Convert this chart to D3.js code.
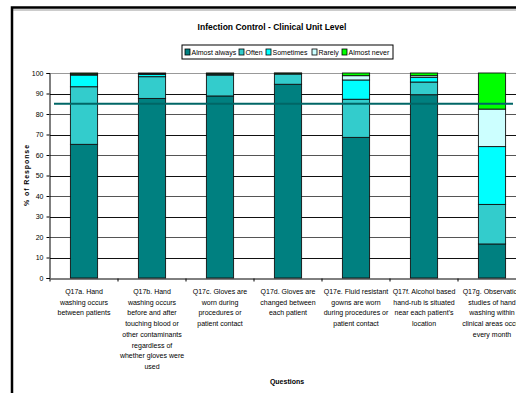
<!DOCTYPE html>
<html>
<head>
<meta charset="utf-8">
<script src="https://cdn.jsdelivr.net/npm/d3@7"></script>
<style>
  body { margin: 0; background: #fff; }
  svg { display: block; font-family: "Liberation Sans", Arial, sans-serif; }
</style>
</head>
<body>
<script>
// data
const categories = ["Q17a", "Q17b", "Q17c", "Q17d", "Q17e", "Q17f", "Q17g"];
const category_labels = [
    ["Q17a. Hand", "washing occurs", "between patients"],
    ["Q17b. Hand", "washing occurs", "before and after", "touching blood or", "other contaminants", "regardless of", "whether gloves were", "used"],
    ["Q17c. Gloves are", "worn during", "procedures or", "patient contact"],
    ["Q17d. Gloves are", "changed between", "each patient"],
    ["Q17e. Fluid resistant", "gowns are worn", "during procedures or", "patient contact"],
    ["Q17f. Alcohol based", "hand-rub is situated", "near each patient's", "location"],
    ["Q17g. Observation", "studies of hand", "washing within", "clinical areas occur", "every month"]
];
const series_names = ["Almost always", "Often", "Sometimes", "Rarely", "Almost never"];
const almost_always = [65.2, 87.6, 88.8, 94.5, 68.6, 89.4, 16.6];
const often = [28.1, 10.6, 10.2, 5.0, 18.6, 6.2, 19.3];
const sometimes = [5.7, 1.1, 0.5, 0.2, 9.4, 2.3, 28.2];
const rarely = [0.5, 0.4, 0.3, 0.2, 2.1, 0.8, 18.3];
const almost_never = [0.5, 0.3, 0.2, 0.1, 1.3, 1.3, 17.6];
const y_ticks = [0, 10, 20, 30, 40, 50, 60, 70, 80, 90, 100];
const target_value = 85;

const COLORS = ["#008080", "#33CCCC", "#00FFFF", "#CCFFFF", "#00FF00"];

const rows = categories.map((c, i) => ({
    cat: c,
    "Almost always": almost_always[i],
    "Often": often[i],
    "Sometimes": sometimes[i],
    "Rarely": rarely[i],
    "Almost never": almost_never[i]
}));

const W = 516, H = 393;
const plot = {left: 50, right: 526, top: 73, bottom: 278};

const svg = d3.select("body").append("svg")
    .attr("width", W)
    .attr("height", H);

// chart frame
svg.append("line")
    .attr("x1", 12).attr("x2", W).attr("y1", 10).attr("y2", 10)
    .attr("stroke", "#bbb").attr("stroke-width", 1.5);
svg.append("path")
    .attr("d", `M12,${H} V7.5 H${W}`)
    .attr("fill", "none").attr("stroke", "#000").attr("stroke-width", 2.5);

// title
svg.append("text")
    .attr("x", 272).attr("y", 30)
    .attr("text-anchor", "middle")
    .style("font-size", "8.5px").style("font-weight", "bold")
    .text("Infection Control - Clinical Unit Level");

const x = d3.scaleBand()
    .domain(categories)
    .range([plot.left, plot.right])
    .paddingInner(0.6).paddingOuter(0.3);

const x_outer = d3.scaleBand()
    .domain(categories)
    .range([plot.left, plot.right]);

const y = d3.scaleLinear()
    .domain([0, 100])
    .range([plot.bottom, plot.top]);

// gridlines
svg.append("g")
    .selectAll("line")
    .data(y_ticks.filter(d => d > 0))
    .join("line")
    .attr("x1", plot.left).attr("x2", W)
    .attr("y1", d => Math.round(y(d)) + 0.5).attr("y2", d => Math.round(y(d)) + 0.5)
    .attr("stroke", d => d === 100 ? "#999" : (d % 20 === 0 ? "#555" : "#111"))
    .attr("stroke-width", 1);

// stacked bars
const stacked = d3.stack().keys(series_names)(rows);

svg.append("g")
    .selectAll("g")
    .data(stacked)
    .join("g")
    .attr("fill", (d, i) => COLORS[i])
    .selectAll("rect")
    .data(d => d)
    .join("rect")
    .attr("x", d => x(d.data.cat))
    .attr("width", x.bandwidth())
    .attr("y", d => y(d[1]))
    .attr("height", d => y(d[0]) - y(d[1]))
    .attr("stroke", "#111")
    .attr("stroke-width", 0.9);

// target line
svg.append("line")
    .attr("x1", 54).attr("x2", 513)
    .attr("y1", y(target_value)).attr("y2", y(target_value))
    .attr("stroke", "#006666").attr("stroke-width", 2);

// y axis
const y_axis = svg.append("g")
    .attr("transform", `translate(${plot.left - 0.5},0)`)
    .call(d3.axisLeft(y).tickValues(y_ticks).tickSize(3).tickPadding(3));
y_axis.select(".domain").attr("stroke", "#000");
y_axis.selectAll("text").style("font-size", "7px").attr("fill", "#000");

// x axis
const x_axis = svg.append("g")
    .attr("transform", `translate(0,${plot.bottom + 0.5})`)
    .call(d3.axisBottom(x_outer).tickValues([]).tickSizeOuter(0));
x_axis.select(".domain").attr("stroke", "#000");
x_axis.selectAll(".bound")
    .data(d3.range(categories.length + 1))
    .join("line")
    .attr("class", "bound")
    .attr("x1", i => plot.left + i * x_outer.bandwidth())
    .attr("x2", i => plot.left + i * x_outer.bandwidth())
    .attr("y1", 0).attr("y2", 3)
    .attr("stroke", "#000");

// x tick labels
svg.append("g")
    .selectAll("text")
    .data(categories)
    .join("text")
    .attr("text-anchor", "middle")
    .style("font-size", "7px")
    .attr("transform", d => `translate(${x_outer(d) + x_outer.bandwidth() / 2},294)`)
    .selectAll("tspan")
    .data((d, i) => category_labels[i])
    .join("tspan")
    .attr("x", 0)
    .attr("dy", (d, i) => i === 0 ? 0 : 10.7)
    .text(d => d);

// axis titles
svg.append("text")
    .attr("transform", "translate(29,175) rotate(-90)")
    .attr("text-anchor", "middle")
    .style("font-size", "7px").style("font-weight", "bold")
    .style("letter-spacing", "0.9px")
    .text("% of Response");

svg.append("text")
    .attr("x", 287).attr("y", 384)
    .attr("text-anchor", "middle")
    .style("font-size", "7px").style("font-weight", "bold")
    .text("Questions");

// legend
const legend = svg.append("g").attr("transform", "translate(182,45)");
legend.append("rect")
    .attr("width", 211).attr("height", 14)
    .attr("fill", "#fff").attr("stroke", "#000").attr("stroke-width", 1);
const legend_x = [3, 57, 84, 130, 160];
const items = legend.selectAll("g")
    .data(series_names)
    .join("g")
    .attr("transform", (d, i) => `translate(${legend_x[i]},0)`);
items.append("rect")
    .attr("y", 4).attr("width", 5).attr("height", 6)
    .attr("fill", (d, i) => COLORS[i])
    .attr("stroke", "#000").attr("stroke-width", 0.8);
items.append("text")
    .attr("x", 6.5).attr("y", 10)
    .style("font-size", "7px")
    .text(d => d);
</script>
</body>
</html>
